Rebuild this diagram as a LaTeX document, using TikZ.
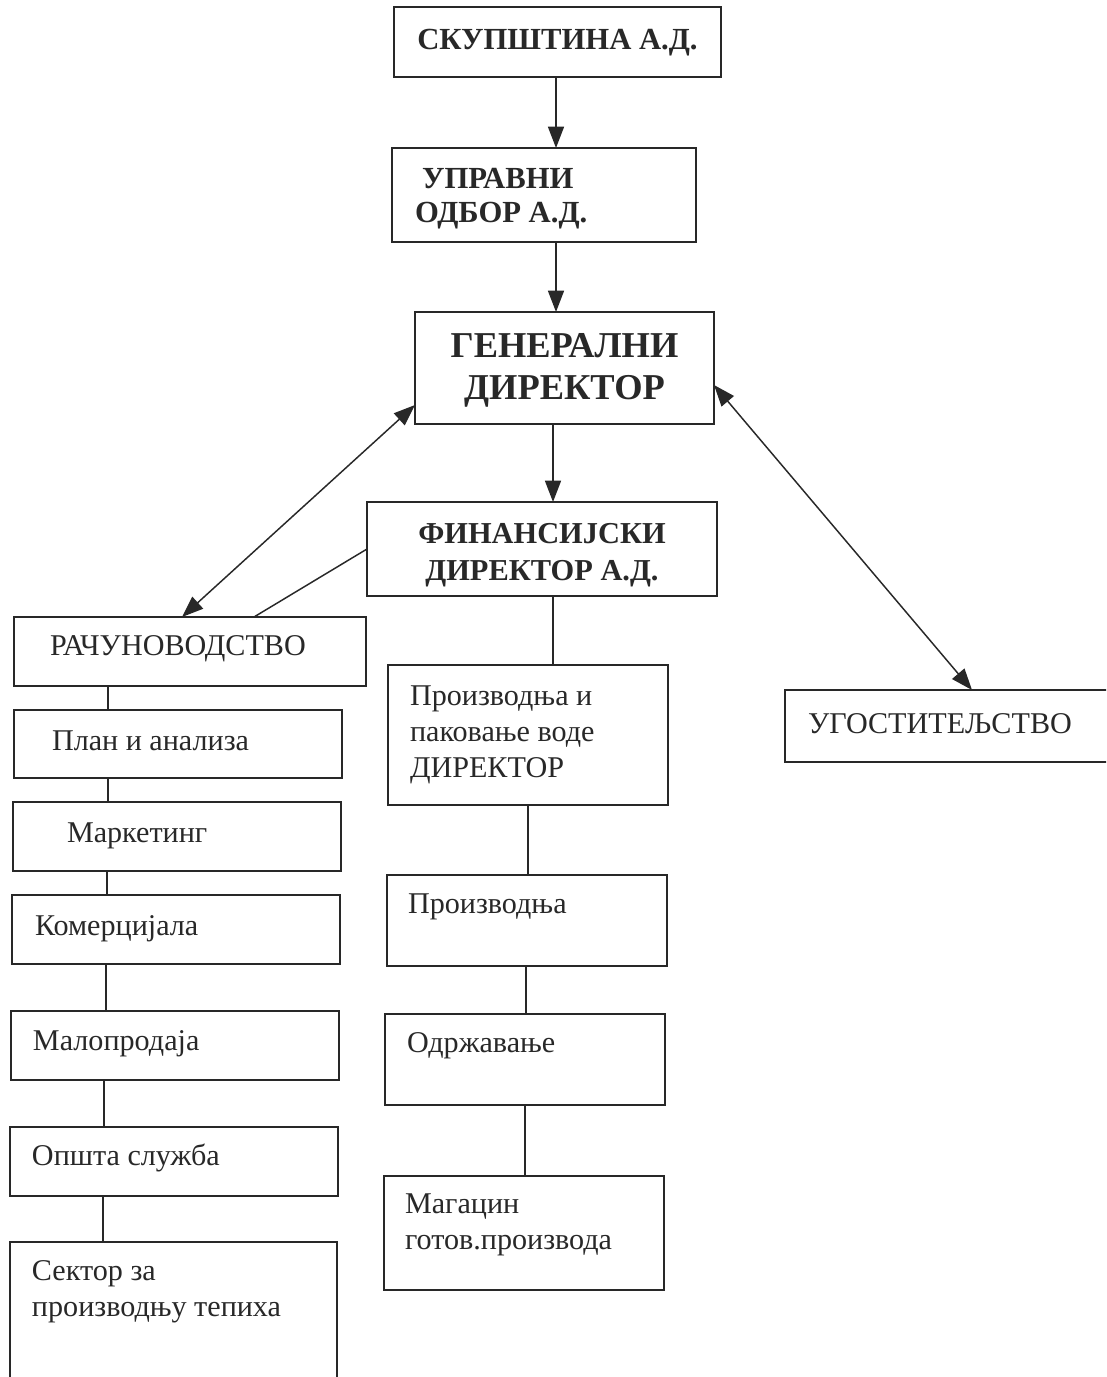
\documentclass[tikz,border=0pt]{standalone}
\usepackage{fontspec}
\setmainfont{Liberation Serif}
\usetikzlibrary{arrows.meta}
\definecolor{ink}{RGB}{40,40,40}
\newdimen\px \px=0.75pt
% #1 style, #2 name, #3 x, #4 y, #5 width, #6 height, #7 content
\newcommand\orgbox[7][]{\node[orgnode,#1] (#2) at (#3,#4) {\parbox[t][#6\px][t]{#5\px}{#7}};}
% left-aligned text: #1 left indent, #2 first baseline, #3 text
\newcommand\boxtext[3]{\leftskip=#1\px\rule{0pt}{#2\px}#3\par}
\newcommand\boxcentre[2]{\centering\rule{0pt}{#1\px}#2\par}
\begin{document}
\begin{tikzpicture}[x=0.75pt,y=-0.75pt,
  orgnode/.style={draw=ink, line width=1.3pt, inner sep=0pt, outer sep=0pt,
    anchor=north west, text=ink, font=\fontsize{22.6}{27}\selectfont},
  head/.style={font=\bfseries\fontsize{23}{25.5}\selectfont},
  headfin/.style={font=\bfseries\fontsize{22.8}{27.75}\selectfont},
  big/.style={font=\bfseries\fontsize{27.3}{31.5}\selectfont},
  link/.style={draw=ink, line width=1.1pt},
  arr/.style={link, -{Triangle[length=16pt,width=12pt]}},
  darr/.style={link, {Triangle[length=16pt,width=12pt]}-{Triangle[length=16pt,width=12pt]}}]
\clip (0,0) rectangle (1106,1377);
\useasboundingbox (0,0) rectangle (1106,1377);
\fill[white] (0,0) rectangle (1106,1377);

% top chain
\orgbox[head]{skup}{394}{7}{327}{70}{\boxcentre{43}{СКУПШТИНА А.Д.}}
\orgbox[head]{upr}{392}{148}{304}{94}{\leftskip=23\px\rule{0pt}{40\px}\hspace*{7\px}УПРАВНИ\\ОДБОР А.Д.\par}
\orgbox[big]{gen}{415}{312}{299}{112}{\centering\rule{0pt}{45\px}ГЕНЕРАЛНИ\\ДИРЕКТОР\par}
\orgbox[headfin]{fin}{367}{502}{350}{94}{\centering\rule{0pt}{41\px}ФИНАНСИЈСКИ\\ДИРЕКТОР А.Д.\par}

% left column
\orgbox{rac}{14}{617}{352}{69}{\boxtext{36}{38}{РАЧУНОВОДСТВО}}
\orgbox{plan}{14}{710}{328}{68}{\boxtext{38}{40}{План и анализа}}
\orgbox{mark}{13}{802}{328}{69}{\boxtext{54}{40}{Маркетинг}}
\orgbox{kom}{12}{895}{328}{69}{\boxtext{23}{40}{Комерцијала}}
\orgbox{mal}{11}{1011}{328}{69}{\boxtext{22}{39}{Малопродаја}}
\orgbox{ops}{10}{1127}{328}{69}{\boxtext{22}{38}{Општа служба}}
\orgbox{sek}{10}{1242}{327}{160}{\boxtext{22}{38}{Сектор за\\производњу тепиха}}

% middle column
\orgbox{pro}{388}{665}{280}{140}{\boxtext{22}{40}{Производња и\\паковање воде\\ДИРЕКТОР}}
\orgbox{prz}{387}{875}{280}{91}{\boxtext{21}{38}{Производња}}
\orgbox{odr}{385}{1014}{280}{91}{\boxtext{22}{38}{Одржавање}}
\orgbox{mag}{384}{1176}{280}{114}{\boxtext{21}{37}{Магацин\\готов.производа}}

% right
\orgbox{ugo}{785}{690}{330}{72}{\boxtext{23}{43}{УГОСТИТЕЉСТВО}}

% connectors
\draw[arr] ([xshift=162\px]skup.south west) -- ([xshift=162\px]skup.south west |- upr.north);
\draw[arr] ([xshift=164\px]upr.south west) -- ([xshift=164\px]upr.south west |- gen.north);
\draw[arr] ([xshift=138\px]gen.south west) -- ([xshift=138\px]gen.south west |- fin.north);
\draw[darr] ([yshift=19\px]gen.south west) -- ([xshift=168\px]rac.north west);
\draw[link] (fin.west) -- ([xshift=240\px]rac.north west);
\draw[darr] ([yshift=-17\px]gen.east) -- ([xshift=187\px]ugo.north west);
\draw[link] ([xshift=186\px]fin.south west) -- ([xshift=186\px]fin.south west |- pro.north);

\draw[link] ([xshift=94\px]rac.south west) -- ([xshift=94\px]rac.south west |- plan.north);
\draw[link] ([xshift=94\px]plan.south west) -- ([xshift=94\px]plan.south west |- mark.north);
\draw[link] ([xshift=94\px]mark.south west) -- ([xshift=94\px]mark.south west |- kom.north);
\draw[link] ([xshift=94\px]kom.south west) -- ([xshift=94\px]kom.south west |- mal.north);
\draw[link] ([xshift=93\px]mal.south west) -- ([xshift=93\px]mal.south west |- ops.north);
\draw[link] ([xshift=93\px]ops.south west) -- ([xshift=93\px]ops.south west |- sek.north);

\draw[link] ([xshift=140\px]pro.south west) -- ([xshift=140\px]pro.south west |- prz.north);
\draw[link] ([xshift=139\px]prz.south west) -- ([xshift=139\px]prz.south west |- odr.north);
\draw[link] ([xshift=140\px]odr.south west) -- ([xshift=140\px]odr.south west |- mag.north);
\end{tikzpicture}
\end{document}
